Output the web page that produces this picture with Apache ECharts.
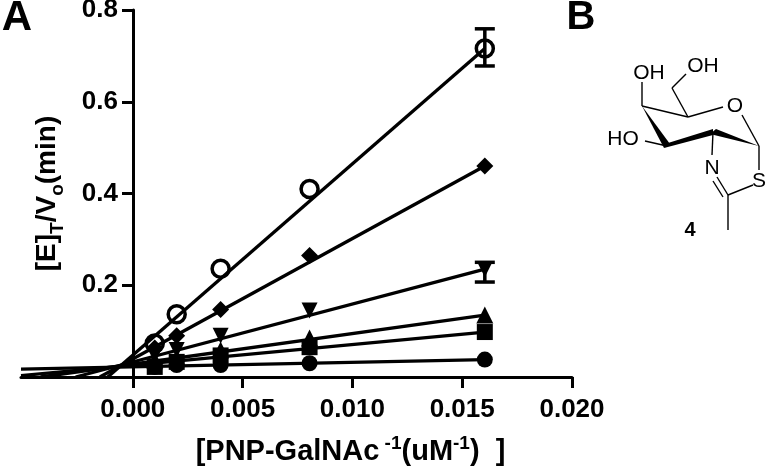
<!DOCTYPE html>
<html><head><meta charset="utf-8">
<style>html,body{margin:0;padding:0;background:#fff}#c{width:766px;height:468px}</style>
<script src="https://cdn.jsdelivr.net/npm/echarts@6/dist/echarts.min.js"></script>
</head><body><div id="c"></div>
<script>
const xTicks = [0, 0.005, 0.01, 0.015, 0.02];
const yTicks = [0.2, 0.4, 0.6, 0.8];
const xValues = [0.001, 0.002, 0.004, 0.00805, 0.01603];
const openCircle = [0.073, 0.137, 0.236, 0.41, 0.716];
const diamonds = [0.063, 0.09, 0.147, 0.265, 0.46];
const downTriangles = [0.048, 0.059, 0.09, 0.145, 0.235];
const upTriangles = [0.037, 0.042, 0.059, 0.085, 0.135];
const squares = [0.022, 0.033, 0.047, 0.065, 0.098];
const circles = [0.022, 0.026, 0.026, 0.03, 0.038];
// fitted lines: [x, y] at both ends
const fitOpenCircle = [[-0.00114, 0], [0.01603, 0.716]];
const fitDiamonds = [[-0.0015, 0], [0.01603, 0.46]];
const fitDownTriangles = [[-0.0026, 0], [0.01603, 0.235]];
const fitUpTriangles = [[-0.0042, 0], [0.01603, 0.135]];
const fitSquares = [[-0.00509, 0.003], [0.01603, 0.098]];
const fitCircles = [[-0.00509, 0.017], [0.01603, 0.038]];
// error bars: [x, low, high]
const errorBars = [[0.01603, 0.678, 0.759], [0.01603, 0.207, 0.25]];

const BLACK = '#000';
const FONT = '"Liberation Sans", Arial, sans-serif';
const lineSeries = d => ({type:'line', data:d, showSymbol:false, silent:true, z:2,
  lineStyle:{color:BLACK, width:3.3}});
const pts = a => a.map((v,i)=>[xValues[i], v]);
const markers = (a, symbol, size, extra) => Object.assign({type:'scatter', data:pts(a), symbol,
  symbolSize:size, clip:false, z:3, itemStyle:{color:BLACK, opacity:1}}, extra||{});

// pixel-placed drawing of the structure in panel B
const bonds = [
 [642,106,642,82],[642,106,688,117],[688,117,723,107],[688,117,672,88],[672,88,686,74],
 [742,115,759,146],[759,146,759,170],[753,185,728,195],[728,195,717,177],[723,197,713,181],
 [728,195,728,230],[713,132,712,155],[667,146,645,141]
].map(s=>({type:'line', shape:{x1:s[0],y1:s[1],x2:s[2],y2:s[3]}, style:{stroke:BLACK,lineWidth:1.4}}));
const wedges = [
 [[642,106],[664,148],[670,144]],
 [[664,148],[713,135],[713,129],[668,143]],
 [[710,134],[716,129],[759,146]]
].map(p=>({type:'polygon', shape:{points:p}, style:{fill:BLACK}}));
const label = (t,x,y,size,weight,align) => ({type:'text', x, y, style:{text:t, font:`${weight||'normal'} ${size}px ${FONT}`, fill:BLACK, align:align||'center', verticalAlign:'middle'}});

const option = {
  animation:false,
  backgroundColor:'#fff',
  grid:{left:21, right:194, top:10, bottom:91, outerBoundsMode:'none', containLabel:false},
  xAxis:{type:'value', min:-0.00509, max:0.02,
    axisLine:{onZero:false, lineStyle:{color:BLACK,width:3}},
    axisTick:{length:11, lineStyle:{color:BLACK,width:3}, customValues:xTicks},
    axisLabel:{customValues:xTicks, color:BLACK, fontFamily:FONT, fontWeight:'bold', fontSize:26, margin:20,
      formatter:v=>v.toFixed(3), hideOverlap:false},
    splitLine:{show:false},
    name:'{b|[PNP-GalNAc}{s| -1}{b|(uM}{s|-1}{b|)  ]}', nameLocation:'middle', nameGap:57, nameMoveOverlap:false,
    nameTextStyle:{padding:[0,0,0,108], rich:{
      b:{fontFamily:FONT,fontWeight:'bold',fontSize:29,color:BLACK,lineHeight:32,verticalAlign:'bottom'},
      s:{fontFamily:FONT,fontWeight:'bold',fontSize:19,color:BLACK,lineHeight:32,verticalAlign:'top'}
    }}
  },
  yAxis:{type:'value', min:0, max:0.8, position:'left', offset:-112,
    axisLine:{onZero:false, lineStyle:{color:BLACK,width:3}},
    axisTick:{length:11, lineStyle:{color:BLACK,width:3}, customValues:yTicks},
    axisLabel:{customValues:yTicks, color:BLACK, fontFamily:FONT, fontWeight:'bold', fontSize:26, margin:15,
      formatter:v=>v.toFixed(1)},
    splitLine:{show:false},
    name:'{b|[E]}{u|T}{b|/V}{u|o}{b|(min)}', nameLocation:'middle', nameGap:66, nameMoveOverlap:false,
    nameTextStyle:{rich:{
      b:{fontFamily:FONT,fontWeight:'bold',fontSize:28,color:BLACK,lineHeight:34,verticalAlign:'top'},
      u:{fontFamily:FONT,fontWeight:'bold',fontSize:19,color:BLACK,lineHeight:34,verticalAlign:'bottom'}
    }}
  },
  series:[
    lineSeries(fitCircles), lineSeries(fitSquares), lineSeries(fitUpTriangles),
    lineSeries(fitDownTriangles), lineSeries(fitDiamonds), lineSeries(fitOpenCircle),
    markers(circles,'circle',16),
    markers(squares,'rect',16),
    markers(upTriangles,'triangle',17),
    markers(downTriangles,'triangle',16,{symbolRotate:180}),
    markers(diamonds,'diamond',[17,17]),
    markers(openCircle,'circle',17,{itemStyle:{color:'rgba(0,0,0,0)',borderColor:BLACK,borderWidth:3.5,opacity:1}}),
    {type:'custom', data:errorBars, clip:false, z:4, silent:true,
      renderItem:(p,api)=>{
        const x=api.value(0), lo=api.coord([x,api.value(1)]), hi=api.coord([x,api.value(2)]);
        const st={stroke:BLACK,lineWidth:3.5};
        return {type:'group',children:[
          {type:'line',shape:{x1:lo[0],y1:lo[1],x2:hi[0],y2:hi[1]},style:st},
          {type:'line',shape:{x1:lo[0]-10,y1:lo[1],x2:lo[0]+10,y2:lo[1]},style:st},
          {type:'line',shape:{x1:hi[0]-10,y1:hi[1],x2:hi[0]+10,y2:hi[1]},style:st}
        ]};
      }}
  ],
  graphic:[
    label('A',17,18,42,'bold'),
    label('B',581,18,40,'bold'),
    label('4',690,230,20,'bold'),
    label('OH',649,73,21),
    label('OH',703,66,21),
    label('O',735,106,21),
    label('HO',623,139,21),
    label('N',712,168,21),
    label('S',759,181,21),
    ...bonds, ...wedges
  ]
};
echarts.init(document.getElementById('c'),null,{renderer:'canvas'}).setOption(option);
</script></body></html>
